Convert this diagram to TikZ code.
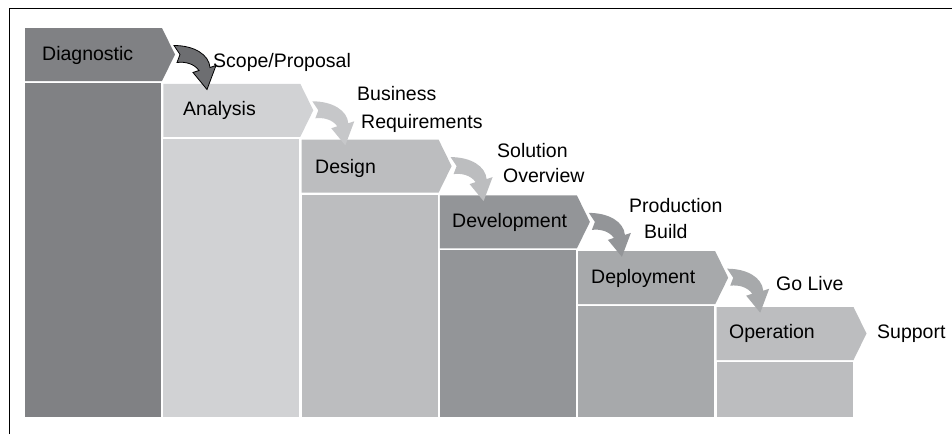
\documentclass[tikz,border=0pt]{standalone}
\usepackage{fontspec}
\setmainfont{Liberation Sans}
\begin{document}
\begin{tikzpicture}[x=1pt,y=-1pt,
  lbl/.style={anchor=base west,inner sep=0pt,font=\fontsize{19.5}{23}\selectfont},
  blockarrow/.pic={
    \path[pic actions] (-1,-9) .. controls (19,-9) and (34,0) .. (35,13)
      -- (41,11) -- (32,35) -- (18,18) -- (24,16)
      .. controls (19,9) and (10,7) .. (2,8) -- (5,0) -- cycle;
  }]
\definecolor{cDiag}{HTML}{808184}
\definecolor{cAna}{HTML}{D1D2D4}
\definecolor{cDes}{HTML}{BCBDBF}
\definecolor{cDev}{HTML}{939598}
\definecolor{cDep}{HTML}{A7A9AB}
\definecolor{cOpe}{HTML}{BCBDBF}
\definecolor{aOne}{HTML}{6D6E71}
\definecolor{aTwo}{HTML}{C6C7C9}
\useasboundingbox (0,0) rectangle (952,434);
% frame
\draw[line width=1.5pt] (9.5,434) -- (9.5,8.5) -- (952,8.5);
% stages: chevron header and column beneath it
\foreach \i/\c in {1/cDiag,2/cAna,3/cDes,4/cDev,5/cDep,6/cOpe}{
  \pgfmathsetmacro\L{25+138.3*(\i-1)}
  \pgfmathsetmacro\T{28+55.8*(\i-1)}
  \fill[\c] (\L,\T) -- ++(137,0) -- ++(13,26.5) -- ++(-13,26.5) -- ++(-137,0) -- cycle;
  \fill[\c] (\L,\T+55) rectangle (\L+136,417);
  \coordinate (tip\i) at (\L+150,\T+26.5);
}
% curved transition arrows
\pic[fill=aOne,draw=black,line width=0.8pt] at (tip1) {blockarrow};
\pic[fill=aTwo] at (tip2) {blockarrow};
\pic[fill=cDes] at (tip3) {blockarrow};
\pic[fill=cDev] at (tip4) {blockarrow};
\pic[fill=cDep] at (tip5) {blockarrow};
% stage names
\node[lbl] (diag) at (42,60) {Diagnostic};
\node[lbl] (ana) at (183,115) {Analysis};
\node[lbl] (des) at (315,173) {Design};
\node[lbl] (dev) at (452,227) {Development};
\node[lbl] (dep) at (591,283) {Deployment};
\node[lbl] (ope) at (729,338) {Operation};
% deliverables
\node[lbl] (scope) at (213,67) {Scope/Proposal};
\node[lbl] (bus) at (357,100) {Business};
\node[lbl] (req) at (361,128) {Requirements};
\node[lbl] (sol) at (497,157) {Solution};
\node[lbl] (ovw) at (503,182) {Overview};
\node[lbl] (prod) at (629,212) {Production};
\node[lbl] (build) at (644,238) {Build};
\node[lbl] (golive) at (776,290) {Go Live};
\node[lbl] (supp) at (877,338) {Support};
\end{tikzpicture}
\end{document}
